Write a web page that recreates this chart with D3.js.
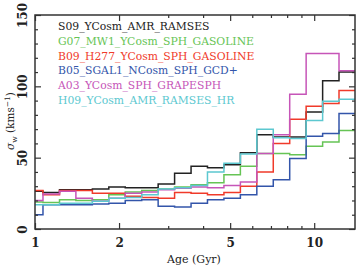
<!DOCTYPE html>
<html>
<head>
<meta charset="utf-8">
<script src="https://cdn.jsdelivr.net/npm/d3@7"></script>
<style>
  body { margin: 0; background: #fff; }
  svg text { font-family: "DejaVu Serif", serif; }
</style>
</head>
<body>
<script>
// age bin edges (Gyr), 20 bins
var edges = [1.0, 1.068, 1.224, 1.401, 1.605, 1.838, 2.105, 2.411, 2.761, 3.162, 3.622,
             4.147, 4.750, 5.440, 6.230, 7.135, 8.171, 9.357, 10.72, 12.27, 14.0];

var names = ["S09_YCosm_AMR_RAMSES", "G07_MW1_YCosm_SPH_GASOLINE", "B09_H277_YCosm_SPH_GASOLINE",
             "B05_SGAL1_NCosm_SPH_GCD+", "A03_YCosm_SPH_GRAPESPH", "H09_YCosm_AMR_RAMSES_HR"];
var colors = ["#222222", "#66c455", "#f03a2a", "#3355aa", "#c655b8", "#5cc8d0"];

var s09 = [26.5, 25.5, 27.5, 27.5, 28, 29.5, 29, 29, 31.5, 39, 44, 43, 45, 53.5, 66, 64.5, 64.5, 82, 104, 110];
var g07 = [19, 18.5, 20.5, 20, 20.5, 24, 26, 27, 28, 29.5, 31, 32.5, 38, 44, 53, 53, 52, 58, 61, 69];
var b09 = [27, 24, 27, 27, 25, 25, 23, 22, 21.5, 25.5, 25, 24, 25.5, 30, 40, 60, 77, 86, 88, 97];
var b05 = [10, 17, 17, 17, 17.5, 18, 20, 20.5, 16, 15.5, 18, 20.5, 21.5, 24, 30, 34.5, 49.5, 65, 67, 81];
var a03 = [20, 24.5, 26.5, 21.5, 19.5, 21.5, 25, 26, 27.5, 28.5, 29.5, 29, 30.5, 33, 53, 66, 94.5, 123, 123, 111];
var h09 = [17, 17, 18, 18, 19.5, 21.5, 22, 24, 28, 29, 30.5, 40, 46, 52.5, 70, 64, 63.5, 76, 89.5, 91];
var series = [s09, g07, b09, b05, a03, h09];

var xTickVals = [1, 2, 5, 10];
var xMinor = [3, 4, 6, 7, 8, 9];
var yTickVals = [0, 50, 100, 150];

var W = 357, H = 268;
var margin = {left: 35, right: 2, top: 15, bottom: 39};

var svg = d3.select("body").append("svg")
    .attr("width", W)
    .attr("height", H);

var x = d3.scaleLog().domain([1, 14]).range([margin.left, W - margin.right]);
var y = d3.scaleLinear().domain([0, 150]).range([H - margin.bottom, margin.top]);

svg.append("clipPath").attr("id", "clip")
    .append("rect")
    .attr("x", margin.left).attr("y", margin.top)
    .attr("width", W - margin.left - margin.right)
    .attr("height", H - margin.top - margin.bottom);

var line = d3.line()
    .x(function(d) { return x(d[0]); })
    .y(function(d) { return y(d[1]); })
    .curve(d3.curveStepAfter);

series.forEach(function(vals, k) {
    var pts = vals.map(function(v, i) { return [edges[i], v]; });
    pts.push([edges[edges.length - 1], vals[vals.length - 1]]);
    svg.append("path")
        .attr("clip-path", "url(#clip)")
        .attr("d", line(pts))
        .attr("fill", "none")
        .attr("stroke", colors[k])
        .attr("stroke-width", 1.5);
});

// axes, ticks pointing inward
var ink = "#333";
var yMinor = d3.range(0, 151, 10).filter(function(v) { return v % 50 !== 0; });

var bottomAx = d3.axisBottom(x).tickValues(xTickVals).tickFormat(d3.format("d")).tickSizeInner(-6).tickSizeOuter(0);
var bottomMinor = d3.axisBottom(x).tickValues(xMinor).tickFormat("").tickSizeInner(-3).tickSizeOuter(0);
var topAx = d3.axisTop(x).tickValues(xTickVals).tickFormat("").tickSizeInner(-6).tickSizeOuter(0);
var topMinor = d3.axisTop(x).tickValues(xMinor).tickFormat("").tickSizeInner(-3).tickSizeOuter(0);
var leftAx = d3.axisLeft(y).tickValues(yTickVals).tickFormat(d3.format("d")).tickSizeInner(-6).tickSizeOuter(0);
var leftMinor = d3.axisLeft(y).tickValues(yMinor).tickFormat("").tickSizeInner(-3).tickSizeOuter(0);
var rightAx = d3.axisRight(y).tickValues(yTickVals).tickFormat("").tickSizeInner(-6).tickSizeOuter(0);
var rightMinor = d3.axisRight(y).tickValues(yMinor).tickFormat("").tickSizeInner(-3).tickSizeOuter(0);

function addAxis(ax, tx, ty) {
    var g = svg.append("g").attr("transform", "translate(" + tx + "," + ty + ")").call(ax);
    g.select(".domain").remove();
    g.selectAll("line").attr("stroke", ink).attr("stroke-width", 1.2);
    return g;
}

var gb = addAxis(bottomAx, 0, H - margin.bottom);
addAxis(bottomMinor, 0, H - margin.bottom);
addAxis(topAx, 0, margin.top);
addAxis(topMinor, 0, margin.top);
var gl = addAxis(leftAx, margin.left, 0);
addAxis(leftMinor, margin.left, 0);
addAxis(rightAx, W - margin.right, 0);
addAxis(rightMinor, W - margin.right, 0);

gb.selectAll("text")
    .attr("y", 9)
    .attr("font-size", 12)
    .attr("font-weight", "bold")
    .attr("fill", "#222");

gl.selectAll("text")
    .attr("x", 0).attr("dy", 0)
    .attr("text-anchor", "middle")
    .attr("font-size", 12)
    .attr("font-weight", "bold")
    .attr("fill", "#222")
    .attr("transform", "translate(-8,0) rotate(-90)");

// frame
svg.append("rect")
    .attr("x", margin.left).attr("y", margin.top)
    .attr("width", W - margin.left - margin.right)
    .attr("height", H - margin.top - margin.bottom)
    .attr("fill", "none")
    .attr("stroke", ink)
    .attr("stroke-width", 1.5);

// axis titles
svg.append("text")
    .attr("x", 194).attr("y", 263)
    .attr("text-anchor", "middle")
    .attr("font-size", 11)
    .attr("fill", "#222")
    .text("Age (Gyr)");

var yl = svg.append("text")
    .attr("transform", "translate(14,121) rotate(-90)")
    .attr("text-anchor", "middle")
    .attr("font-size", 10.5)
    .attr("fill", "#222");
yl.append("tspan").attr("font-style", "italic").text("σ");
yl.append("tspan").attr("font-size", 7.5).attr("dy", 3).text("w");
yl.append("tspan").attr("dy", -3).text(" (kms");
yl.append("tspan").attr("font-size", 7.5).attr("dy", -4).text("−1");
yl.append("tspan").attr("dy", 4).text(")");

// legend
names.forEach(function(n, k) {
    svg.append("text")
        .attr("x", 58)
        .attr("y", 30 + k * 14.8)
        .attr("font-size", 10.8)
        .attr("fill", colors[k])
        .text(n);
});
</script>
</body>
</html>
